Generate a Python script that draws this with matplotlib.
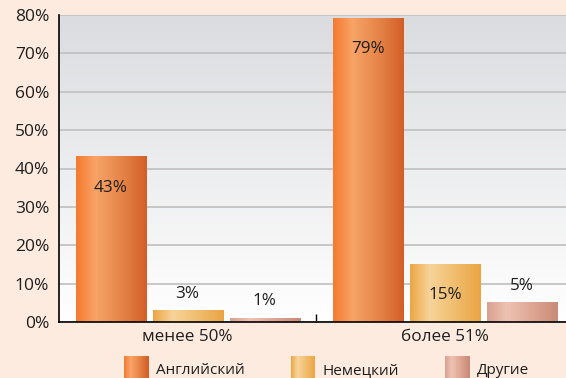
import numpy as np
import matplotlib
matplotlib.use('Agg')
import matplotlib.pyplot as plt
from matplotlib.colors import LinearSegmentedColormap
from matplotlib.patches import Rectangle
from matplotlib.legend_handler import HandlerBase

plt.rcParams['font.family'] = ['Open Sans', 'DejaVu Sans']

# данные
groups = ['менее 50%', 'более 51%']
series = ['Английский', 'Немецкий', 'Другие']
english = [43, 79]
german = [3, 15]
other = [1, 5]
yticks = [0, 10, 20, 30, 40, 50, 60, 70, 80]

# градиенты столбцов: край, блик, середина, край
gradients = {
    'Английский': ['#F47B2E', '#F8A368', '#E58446', '#D35E28'],
    'Немецкий': ['#EBA645', '#F7D49A', '#F0BC6C', '#EBA443'],
    'Другие': ['#DAA090', '#EEC2B3', '#DDA592', '#C98A78'],
}
positions = [0.0, 0.28, 0.65, 1.0]

BG = '#FDEBE0'
TXT = '#1E1E1E'


def make_cmap(name):
    return LinearSegmentedColormap.from_list(name, list(zip(positions, gradients[name])))


class GradientHandler(HandlerBase):
    """Прямоугольник легенды с горизонтальным градиентом"""
    def __init__(self, name):
        super().__init__()
        self.cmap = make_cmap(name)

    def create_artists(self, legend, orig_handle, xdescent, ydescent,
                       width, height, fontsize, trans):
        n = 24
        arts = []
        for i in range(n):
            r = Rectangle((-xdescent + width * i / n, -ydescent - 4), width / n + 0.3, height + 8,
                          facecolor=self.cmap((i + 0.5) / n), edgecolor='none', transform=trans)
            arts.append(r)
        return arts


fig = plt.figure(figsize=(5.66, 3.78), dpi=100, facecolor=BG)
ax = fig.add_axes([59 / 566, 1 - 322 / 378, 1 - 59 / 566, (322 - 15) / 378])
ax.set_facecolor('white')

# фон области построения: серый сверху, белый снизу
bg = np.linspace(0, 1, 256).reshape(-1, 1)
bg_cmap = LinearSegmentedColormap.from_list('bg', ['#DBDCDF', '#FFFFFF'])
ax.imshow(bg, cmap=bg_cmap, extent=(0, 1, 0, 1), transform=ax.transAxes,
          aspect='auto', zorder=0, interpolation='bilinear')

x = np.arange(len(groups))
width = 0.272
step = 0.299
values = [english, german, other]

for j, (name, vals) in enumerate(zip(series, values)):
    cmap = make_cmap(name)
    grad = np.linspace(0, 1, 256).reshape(1, -1)
    for i, v in enumerate(vals):
        xc = x[i] + (j - 1) * step
        ax.bar(xc, v, width=width, color='none', edgecolor='none', zorder=3)
        ax.imshow(grad, cmap=cmap, extent=(xc - width / 2, xc + width / 2, 0, v),
                  aspect='auto', zorder=3, interpolation='bilinear')
        # крупные значения подписаны внутри столбца, мелкие — над ним
        dy = -22 if v >= 10 else 12
        ax.annotate(f'{v}%', (xc, v), xytext=(0, dy), textcoords='offset points',
                    ha='center', va='center', fontsize=12.3, color=TXT, zorder=5)

ax.set_xlim(-0.5, 1 + (566 - 445) / 257.5)
ax.set_ylim(0, 80)
ax.set_yticks(yticks)
ax.set_yticklabels([f'{t}%' for t in yticks])
ax.yaxis.grid(True, color='#C3C3C3', linewidth=1.3, zorder=1)
ax.set_axisbelow(True)

ax.set_xticks(x)
ax.set_xticklabels(groups)
ax.set_xticks([0.5], minor=True)
ax.tick_params(axis='x', which='major', length=0, pad=5, labelsize=12.3, labelcolor=TXT)
ax.tick_params(axis='x', which='minor', length=6, width=1, direction='in', color='black')
ax.tick_params(axis='y', length=0, pad=7, labelsize=12.5, labelcolor=TXT)

for s in ['top', 'right']:
    ax.spines[s].set_visible(False)
for s in ['left', 'bottom']:
    ax.spines[s].set_color('black')
    ax.spines[s].set_linewidth(1.2)
    ax.spines[s].set_zorder(4)

handles = [Rectangle((0, 0), 1, 1) for _ in series]
fig.legend(handles, series, handler_map={h: GradientHandler(n) for h, n in zip(handles, series)},
           loc='center', bbox_to_anchor=(0.577, 1 - 370 / 378), ncol=3, frameon=False,
           fontsize=11, labelcolor=TXT, handlelength=1.6, handleheight=1.0,
           handletextpad=0.5, columnspacing=3.0)

fig.savefig('out.png', dpi=100, facecolor=BG)
